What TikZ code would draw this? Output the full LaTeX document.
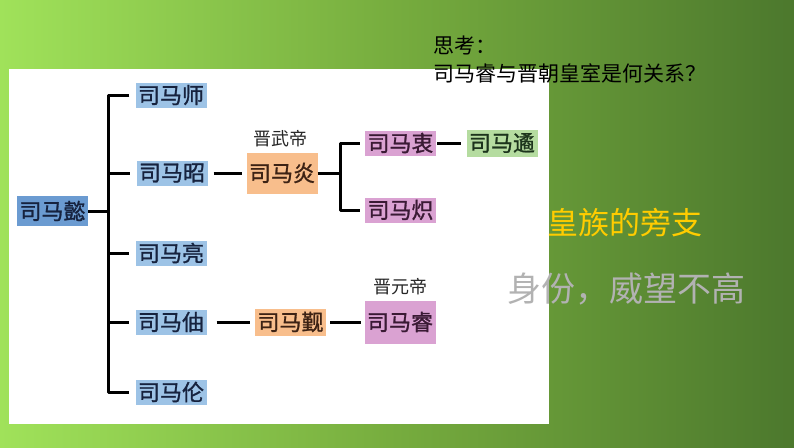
\documentclass[tikz,border=0pt]{standalone}
\usepackage{fontspec}
\newfontfamily\cjk{Noto Sans CJK SC}
\newfontfamily\cjkb{Noto Sans CJK SC}[FakeBold=1.2]
\definecolor{bgL}{RGB}{160,226,90}
\definecolor{bgM}{RGB}{118,172,62}
\definecolor{bgR}{RGB}{76,120,45}
\definecolor{fBlue}{RGB}{157,195,230}
\definecolor{fBlueD}{RGB}{107,155,209}
\definecolor{fOrange}{RGB}{248,190,140}
\definecolor{fPink}{RGB}{218,162,210}
\definecolor{fGreen}{RGB}{181,220,160}
\definecolor{tNavy}{RGB}{22,34,62}
\definecolor{tBrown}{RGB}{60,34,20}
\definecolor{tPurple}{RGB}{58,26,52}
\definecolor{tGreen}{RGB}{28,52,28}
\definecolor{hYellow}{RGB}{255,204,0}
\definecolor{hGray}{RGB}{178,178,178}
\tikzset{
  person/.style={font=\cjkb\fontsize{22}{22}\selectfont, minimum width=71pt, minimum height=25pt, inner sep=0pt, anchor=center},
  pblue/.style={person, fill=fBlue, text=tNavy},
  pblued/.style={person, fill=fBlueD, text=tNavy},
  porange/.style={person, fill=fOrange, text=tBrown},
  ppink/.style={person, fill=fPink, text=tPurple},
  pgreen/.style={person, fill=fGreen, text=tGreen},
  title/.style={font=\cjk\fontsize{18}{18}\selectfont, text=black!85, inner sep=0pt},
  lk/.style={line width=3pt, black},
  question/.style={font=\cjk\fontsize{21}{21}\selectfont, text=black, anchor=west, inner sep=0pt},
}
\begin{document}
\begin{tikzpicture}[x=1pt,y=-1pt]
\useasboundingbox (0,0) rectangle (794,447);
\shade[left color=bgL, right color=bgR, middle color=bgM] (0,0) rectangle (794,447);
\fill[white] (9,69) rectangle (549,424);

% nodes
\node[pblued, minimum height=30pt] (yi) at (52.5,211) {司马懿};
\node[pblue] (shi) at (171,95) {司马师};
\node[pblue] (zhao) at (172,173) {司马昭};
\node[pblue] (liang) at (171,253) {司马亮};
\node[pblue] (zhou) at (171,322) {司马伷};
\node[pblue] (lun) at (171,392) {司马伦};
\node[porange, minimum height=41pt] (yan) at (282,173) {司马炎};
\node[title] (wudi) at (280,139) {晋武帝};
\node[ppink] (zhong) at (400.5,143) {司马衷};
\node[pgreen, minimum height=27pt] (yu) at (502,143) {司马遹};
\node[ppink] (chi) at (400.5,210) {司马炽};
\node[porange, minimum height=27pt] (jin) at (290.5,322) {司马觐};
\node[ppink, minimum height=43pt] (rui) at (400,322) {司马睿};
\node[title] (yuandi) at (400,287) {晋元帝};

\coordinate (trunk) at (108,0);
\coordinate (trunk2) at (340,0);

% connectors
\draw[lk] (yi.east) -- (yi.east -| trunk);
\draw[lk, line join=round] ([xshift=-6pt]shi.west) -- (trunk |- shi) -- (trunk |- lun) -- ([xshift=-6pt]lun.west);
\draw[lk] (trunk |- zhao) -- ([xshift=-6pt]zhao.west);
\draw[lk] (trunk |- liang) -- ([xshift=-6pt]liang.west);
\draw[lk] (trunk |- zhou) -- ([xshift=-6pt]zhou.west);
\draw[lk] ([xshift=6pt]zhao.east) -- ([xshift=-4pt]yan.west);
\draw[lk] (yan.east) -- (yan.east -| trunk2);
\draw[lk, line join=round] ([xshift=-5pt]zhong.west) -- (trunk2 |- zhong) -- (trunk2 |- chi) -- ([xshift=-5pt]chi.west);
\draw[lk] ([xshift=1pt]zhong.east) -- ([xshift=-5pt]yu.west);
\draw[lk] ([xshift=10pt]zhou.east) -- ([xshift=-5pt]jin.west);
\draw[lk] ([xshift=4pt]jin.east) -- ([xshift=-3pt]rui.west);

% texts
\node[question] (q1) at (433,45) {思考：};
\node[question] (q2) at (433,73) {司马睿与晋朝皇室是何关系？};
\node[font=\cjk\fontsize{31}{31}\selectfont, text=hYellow, anchor=west, inner sep=0pt] (h1) at (547,223) {皇族的旁支};
\node[font=\cjk\fontsize{34}{34}\selectfont, text=hGray, anchor=west, inner sep=0pt] (h2) at (507,289) {身份，威望不高};
\end{tikzpicture}
\end{document}
